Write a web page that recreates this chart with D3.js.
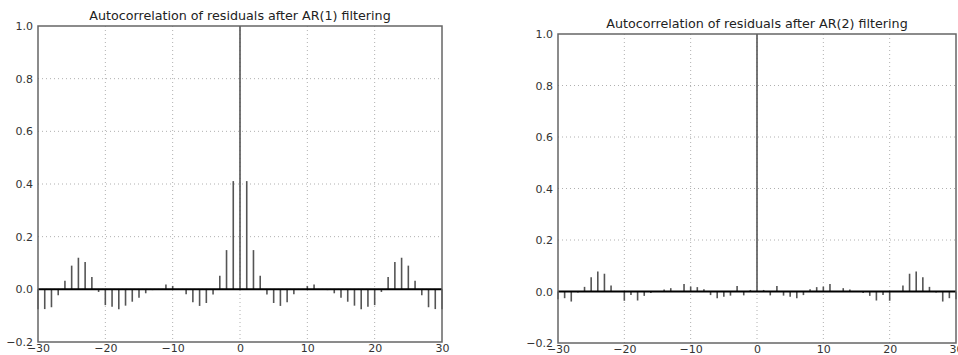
<!DOCTYPE html>
<html><head><meta charset="utf-8">
<script src="https://cdn.jsdelivr.net/npm/d3@7"></script>
<style>html,body{margin:0;padding:0;background:#fff;overflow:hidden}</style>
</head><body>
<svg id="c" width="958" height="355"></svg>
<script>
const lags = d3.range(-30, 31);
const acfAR1 = [-0.076,-0.075,-0.068,-0.022,0.033,0.090,0.120,0.104,0.047,-0.010,
  -0.060,-0.066,-0.076,-0.062,-0.047,-0.032,-0.015,-0.003,0.000,0.018,
  0.013,0.000,-0.019,-0.049,-0.063,-0.052,-0.020,0.052,0.149,0.411,
  1.000,
  0.411,0.149,0.052,-0.020,-0.052,-0.063,-0.049,-0.019,0.000,0.013,
  0.018,0.000,-0.003,-0.015,-0.032,-0.047,-0.062,-0.076,-0.066,-0.060,
  -0.010,0.047,0.104,0.120,0.090,0.033,-0.022,-0.068,-0.075,-0.076];
const acfAR2 = [-0.030,-0.026,-0.039,-0.004,0.018,0.055,0.078,0.069,0.023,0.000,
  -0.036,-0.014,-0.035,-0.017,-0.006,0.000,0.008,0.013,0.000,0.029,
  0.019,0.017,0.009,-0.014,-0.026,-0.020,-0.016,0.021,-0.015,0.006,
  1.000,
  0.006,-0.015,0.021,-0.016,-0.020,-0.026,-0.014,0.009,0.017,0.019,
  0.029,0.000,0.013,0.008,0.000,-0.006,-0.017,-0.035,-0.014,-0.036,
  0.000,0.023,0.069,0.078,0.055,0.018,-0.004,-0.039,-0.026,-0.030];
const titles = ["Autocorrelation of residuals after AR(1) filtering",
                "Autocorrelation of residuals after AR(2) filtering"];
const xTicks = [-30,-20,-10,0,10,20,30];
const yTicks = [-0.2,0,0.2,0.4,0.6,0.8,1.0];

const svg = d3.select("#c");
const panels = [
  {vals: acfAR1, title: titles[0], x0: 38, x1: 442, y0: 26, y1: 342, ty: 20},
  {vals: acfAR2, title: titles[1], x0: 558, x1: 956, y0: 34, y1: 343, ty: 28}
];
const fmt = d => (d < 0 ? "\u2212" : "") + Math.abs(d).toFixed(1);
const font = "DejaVu Sans";

panels.forEach(p => {
  const x = d3.scaleLinear().domain([-30, 30]).range([p.x0, p.x1]);
  const y = d3.scaleLinear().domain([-0.2, 1.0]).range([p.y1, p.y0]);
  const g = svg.append("g");
  g.selectAll(".gx").data(xTicks.slice(1, -1)).enter().append("line")
    .attr("x1", d => x(d)).attr("x2", d => x(d)).attr("y1", p.y0).attr("y2", p.y1)
    .attr("stroke", "#b0b0b0").attr("stroke-width", 1).attr("stroke-dasharray", "1,3");
  g.selectAll(".gy").data(yTicks.slice(1, -1)).enter().append("line")
    .attr("y1", d => y(d)).attr("y2", d => y(d)).attr("x1", p.x0).attr("x2", p.x1)
    .attr("stroke", "#b0b0b0").attr("stroke-width", 1).attr("stroke-dasharray", "1,3");
  g.selectAll(".bar").data(lags).enter().append("line")
    .attr("x1", d => x(d)).attr("x2", d => x(d))
    .attr("y1", y(0)).attr("y2", (d, i) => y(p.vals[i]))
    .attr("stroke", "#555").attr("stroke-width", 1.6);
  g.append("line").attr("x1", p.x0).attr("x2", p.x1).attr("y1", y(0)).attr("y2", y(0))
    .attr("stroke", "#000").attr("stroke-width", 2);
  g.append("rect").attr("x", p.x0).attr("y", p.y0).attr("width", p.x1 - p.x0).attr("height", p.y1 - p.y0)
    .attr("fill", "none").attr("stroke", "#666").attr("stroke-width", 1.5);
  const ax = d3.axisBottom(x).tickValues(xTicks).tickFormat(d => (d < 0 ? "\u2212" : "") + Math.abs(d)).tickSize(0).tickPadding(2);
  const axG = g.append("g").attr("transform", `translate(0,${p.y1})`).call(ax);
  const ay = d3.axisLeft(y).tickValues(yTicks).tickFormat(fmt).tickSize(0).tickPadding(5);
  const ayG = g.append("g").attr("transform", `translate(${p.x0},0)`).call(ay);
  [axG, ayG].forEach(a => {
    a.select(".domain").remove();
    a.selectAll("text").attr("font-family", font).attr("font-size", 11).attr("fill", "#333");
  });
  g.append("text").attr("x", (p.x0 + p.x1) / 2).attr("y", p.ty).attr("text-anchor", "middle")
    .attr("font-family", font).attr("font-size", 12.7).attr("fill", "#222").text(p.title);
});
</script>
</body></html>
